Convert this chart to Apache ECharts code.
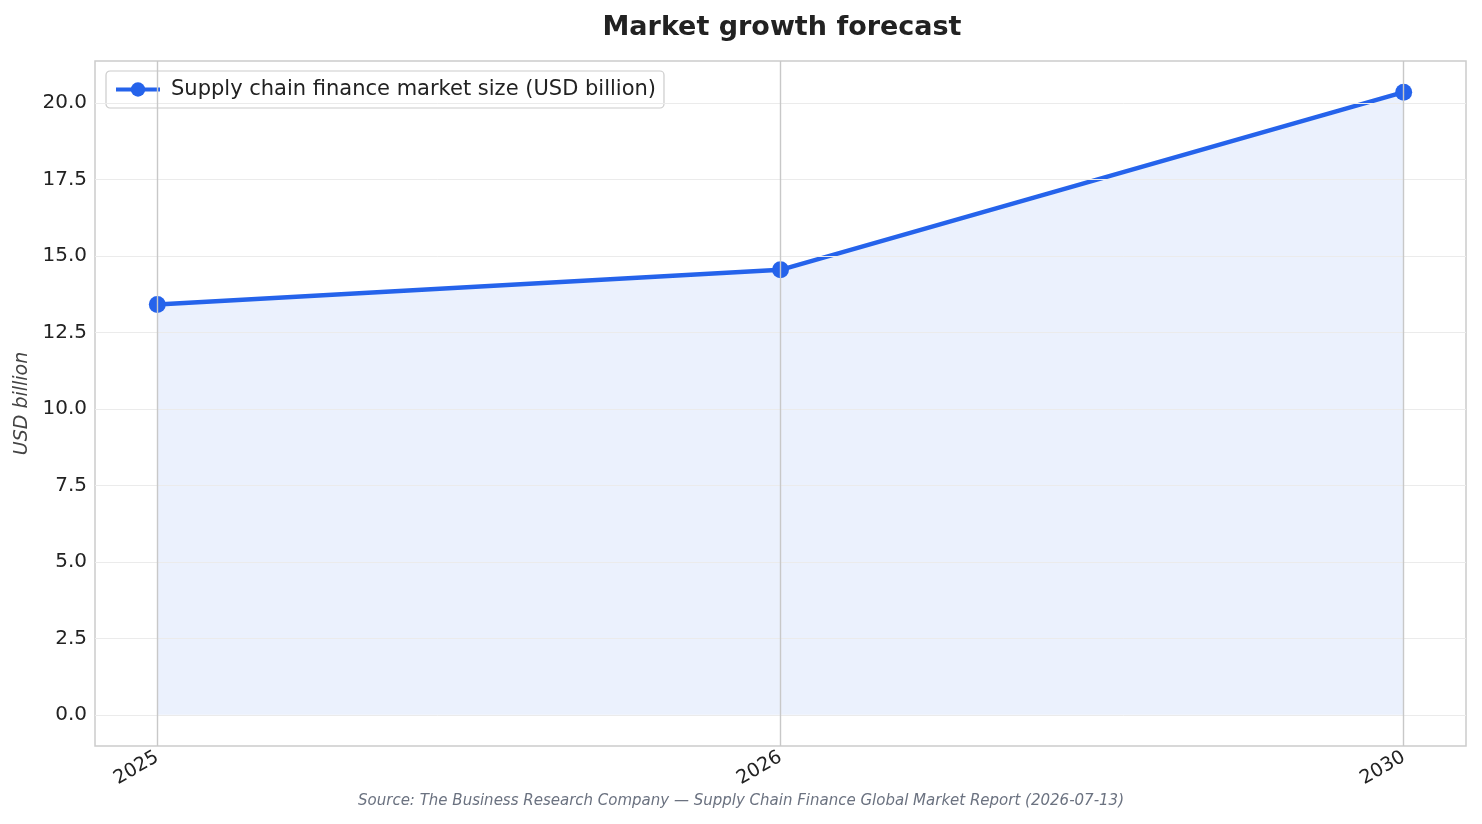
<!DOCTYPE html>
<html>
<head>
<meta charset="utf-8">
<script src="https://cdn.jsdelivr.net/npm/echarts@6/dist/echarts.min.js"></script>
<style>
  html, body { margin: 0; padding: 0; background: #fff; }
  #chart { width: 1482px; height: 824px; }
</style>
</head>
<body>
<div id="chart"></div>
<script>
// 数据
const years = ['2025', '2026', '2030'];
const marketSize = [13.42, 14.55, 20.36];
const yTicks = [0, 2.5, 5, 7.5, 10, 12.5, 15, 17.5, 20];
const seriesName = 'Supply chain finance market size (USD billion)';

const FONT = 'DejaVu Sans';
const BLUE = '#2563eb';

const chart = echarts.init(document.getElementById('chart'), null, { renderer: 'canvas' });

// x 用数值轴（0,1,2），两侧各留 5% 的边
const points = marketSize.map((v, i) => [i, v]);
const yMax = Math.max(...marketSize);
const pad = yMax * 0.05;

chart.setOption({
  animation: false,
  title: {
    text: 'Market growth forecast',
    left: 777,
    top: 9,
    textAlign: 'center',
    textStyle: { fontFamily: FONT, fontSize: 27, fontWeight: 'bold', color: '#222' }
  },
  legend: {
    left: 106,
    top: 71,
    padding: [8, 8, 8, 8],
    itemWidth: 44,
    itemHeight: 18,
    itemGap: 10,
    borderColor: '#cccccc',
    borderWidth: 1.2,
    borderRadius: 4,
    backgroundColor: '#fff',
    lineStyle: { width: 4 },
    textStyle: { fontFamily: FONT, fontSize: 21, color: '#222', padding: [0, 0, 0, 6] },
    data: [seriesName]
  },
  grid: {
    left: 95, right: 16, top: 61, bottom: 78,
    show: true, borderColor: '#cccccc', borderWidth: 1.5, backgroundColor: '#fff'
  },
  xAxis: {
    type: 'value',
    min: -0.1,
    max: 2.1,
    axisLine: { show: false },
    axisTick: { show: false },
    splitLine: { show: false },
    axisLabel: {
      customValues: [0, 1, 2],
      formatter: v => years[Math.round(v)],
      rotate: 30,
      margin: 10,
      fontFamily: FONT, fontSize: 19, color: '#222'
    }
  },
  yAxis: {
    type: 'value',
    min: -pad,
    max: yMax + pad,
    name: 'USD billion',
    nameLocation: 'middle',
    nameGap: 62,
    nameTextStyle: { fontFamily: FONT, fontSize: 19, fontStyle: 'italic', color: '#444' },
    axisLine: { show: false },
    axisTick: { show: false },
    splitLine: { show: false },
    axisLabel: {
      customValues: yTicks,
      formatter: v => v.toFixed(1),
      margin: 8,
      fontFamily: FONT, fontSize: 20, color: '#222'
    }
  },
  graphic: [{
    type: 'text',
    left: 'center',
    top: 794,
    style: {
      text: 'Source: The Business Research Company \u2014 Supply Chain Finance Global Market Report (2026-07-13)',
      font: 'italic 15px "DejaVu Sans"',
      fill: '#6b7280'
    }
  }],
  series: [
    {
      // 网格线
      type: 'line',
      data: [],
      silent: true,
      z: 1,
      markLine: {
        silent: true,
        symbol: 'none',
        label: { show: false },
        data: yTicks.map(t => ({ yAxis: t, lineStyle: { color: '#ebebeb', width: 1, type: 'solid' } }))
          .concat(years.map((y, i) => ({ xAxis: i, lineStyle: { color: '#c8c8c8', width: 1.4, type: 'solid' } })))
      }
    },
    {
      name: seriesName,
      type: 'line',
      data: points,
      z: 3,
      symbol: 'circle',
      symbolSize: 17,
      itemStyle: { color: BLUE },
      lineStyle: { color: BLUE, width: 4.5 },
      areaStyle: { color: 'rgba(37,99,235,0.09)', opacity: 1, origin: 0 }
    }
  ]
});
</script>
</body>
</html>
